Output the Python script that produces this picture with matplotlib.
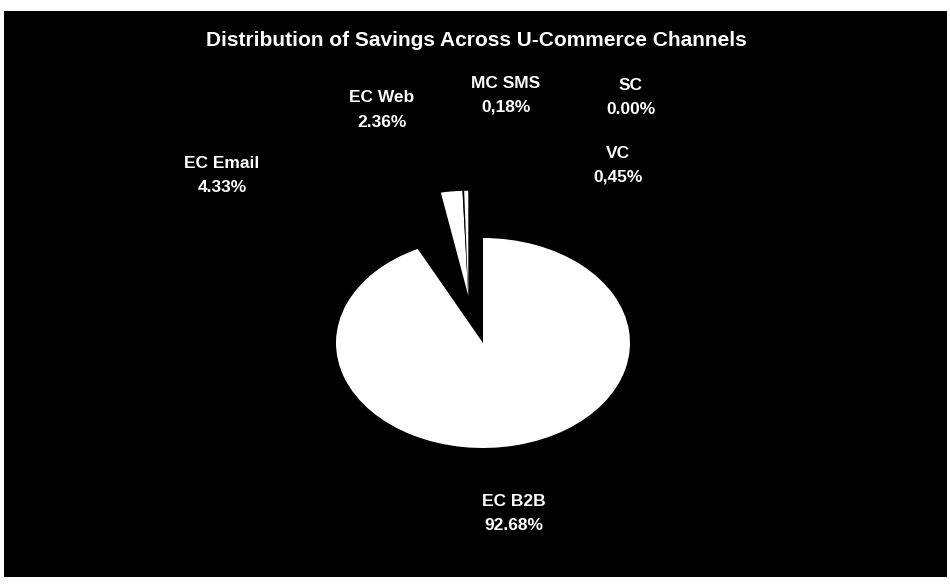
import matplotlib

matplotlib.use("Agg")
import matplotlib.pyplot as plt

W, H = 950, 584

# savings share per channel, in clockwise order from 12 o'clock
channels = ["EC B2B", "EC Email", "EC Web", "MC SMS", "VC", "SC"]
shares = [92.68, 4.33, 2.36, 0.18, 0.45, 0.00]
decimal_marks = [".", ".", ".", ",", ",", "."]
fills = ["white", "black", "white", "black", "white", "black"]

# label anchor points (pixels from top-left) for name / value lines
label_xy = {
    "EC B2B": (514, 501),
    "EC Email": (222, 163),
    "EC Web": (382, 98),
    "MC SMS": (506, 83),
    "VC": (618, 153),
    "SC": (631, 86),
}
LINE_GAP = 24

plt.rcParams["font.family"] = ["Liberation Sans", "DejaVu Sans"]

fig = plt.figure(figsize=(W / 100, H / 100), dpi=100, facecolor="white")


def px_rect(x0, y0, x1, y1):
    return [x0 / W, 1 - y1 / H, (x1 - x0) / W, (y1 - y0) / H]


bg = fig.add_axes(px_rect(4, 11, 947, 577))
bg.set_facecolor("black")
bg.set_xticks([])
bg.set_yticks([])
for s in bg.spines.values():
    s.set_visible(False)

# elliptical pie: centre (483, 343), radii 147 x 104 px
cx, cy, rx, ry, k = 483, 343, 147, 105, 1.6
ax = fig.add_axes(px_rect(cx - k * rx, cy - k * ry, cx + k * rx, cy + k * ry))
ax.patch.set_alpha(0)
wedges, _ = ax.pie(
    shares,
    colors=fills,
    startangle=90,
    counterclock=False,
    wedgeprops=dict(linewidth=0),
)
# the small channels are pulled out together, up and slightly left
for w in wedges[1:]:
    w.set_center((-0.10, 0.45))
ax.set_aspect("auto")
ax.set_xlim(-k, k)
ax.set_ylim(-k, k)
ax.axis("off")

fig.text(476 / W, 1 - 40 / H, "Distribution of Savings Across U-Commerce Channels",
         color="white", fontsize=15, fontweight="bold", ha="center", va="center")

for name, val, mark in zip(channels, shares, decimal_marks):
    x, y = label_xy[name]
    pct = f"{val:.2f}%".replace(".", mark)
    fig.text(x / W, 1 - y / H, name, color="white", fontsize=12.5,
             fontweight="bold", ha="center", va="center")
    fig.text(x / W, 1 - (y + LINE_GAP) / H, pct, color="white", fontsize=12.5,
             fontweight="bold", ha="center", va="center")

fig.savefig("out.png", dpi=100, facecolor="white")
